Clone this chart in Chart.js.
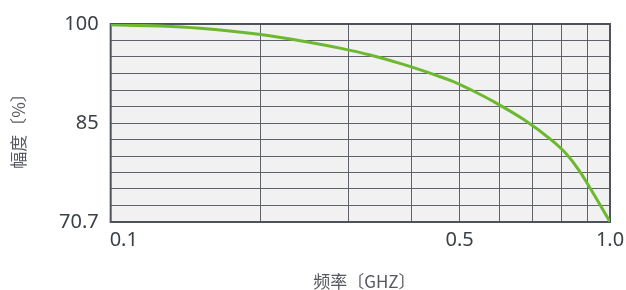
<!DOCTYPE html>
<html>
<head>
<meta charset="utf-8">
<script src="https://cdn.jsdelivr.net/npm/chart.js@4/dist/chart.umd.min.js"></script>
<style>
  html, body { margin: 0; padding: 0; background: #ffffff; }
  #wrap { width: 626px; height: 290px; }
</style>
</head>
<body>
<div id="wrap"><canvas id="ampChart"></canvas></div>
<script>
// frequency (GHz) and amplitude (%)
const freqs = [0.1, 0.126, 0.151, 0.196, 0.251, 0.291, 0.331, 0.387, 0.457, 0.483, 0.535, 0.583, 0.673, 0.766, 0.817, 0.867, 0.904, 0.946, 0.991, 1.0];
const amps  = [99.88, 99.71, 99.37, 98.51, 97.27, 96.36, 95.41, 93.98, 92.2, 91.55, 90.01, 88.56, 85.82, 82.73, 80.8, 78.35, 76.2, 73.76, 71.21, 70.7];

// axis ticks
const xGridValues = [0.1, 0.2, 0.3, 0.4, 0.5, 0.6, 0.7, 0.8, 0.9, 1.0];
const xTickLabels = ["0.1", "0.5", "1.0"];
const xTickValues = [0.1, 0.5, 1.0];
const yMin = 70.7, yMax = 100;
const yGridSteps = 12;
const yTickLabels = { 0: "70.7", 6: "85", 12: "100" };

const xTitle = "频率〔GHZ〕";
const yTitle = "幅度〔%〕";

const gridColor = "#5f6268";
const textColor = "#3c4047";
const titleColor = "#55585e";
const tickFont = "'Noto Sans', sans-serif";
const cjkFont = "'Noto Sans CJK SC', sans-serif";

const points = freqs.map((f, i) => ({ x: f, y: amps[i] }));

// plot background, frame, x labels and axis titles
const plotFrame = {
  id: "plotFrame",
  beforeDraw(chart) {
    const { ctx, chartArea: a } = chart;
    ctx.save();
    ctx.fillStyle = "#f1f1f1";
    ctx.fillRect(a.left, a.top, a.right - a.left, a.bottom - a.top);
    ctx.restore();
  },
  beforeDatasetsDraw(chart) {
    const { ctx, chartArea: a } = chart;
    ctx.save();
    ctx.strokeStyle = "#4e525a";
    ctx.lineWidth = 2;
    ctx.strokeRect(a.left, a.top, a.right - a.left, a.bottom - a.top);
    ctx.restore();
  },
  afterDraw(chart) {
    const { ctx, chartArea: a, scales } = chart;
    ctx.save();
    ctx.fillStyle = textColor;
    ctx.font = "20px " + tickFont;
    ctx.textBaseline = "middle";
    xTickValues.forEach((v, i) => {
      const px = scales.x.getPixelForValue(v);
      ctx.textAlign = i === 0 ? "left" : "center";
      ctx.fillText(xTickLabels[i], i === 0 ? a.left - 1 : px, a.bottom + 18);
    });
    ctx.fillStyle = titleColor;
    ctx.textAlign = "center";
    ctx.font = "17px " + cjkFont;
    ctx.fillText(xTitle, (a.left + a.right) / 2 + 4, a.bottom + 60);
    ctx.translate(19, (a.top + a.bottom) / 2 + 4);
    ctx.rotate(-Math.PI / 2);
    ctx.fillText(yTitle, 0, 0);
    ctx.restore();
  }
};

new Chart(document.getElementById("ampChart"), {
  type: "line",
  data: {
    datasets: [{
      data: points,
      borderColor: "#6cb92f",
      borderWidth: 3,
      pointRadius: 0,
      cubicInterpolationMode: "monotone",
      fill: false
    }]
  },
  options: {
    responsive: true,
    maintainAspectRatio: false,
    animation: false,
    layout: { padding: { top: 21, right: 16, left: 47, bottom: 68 } },
    plugins: { legend: { display: false }, tooltip: { enabled: false } },
    scales: {
      x: {
        type: "logarithmic",
        min: 0.1,
        max: 1.0,
        afterBuildTicks(scale) {
          scale.ticks = xGridValues.map(v => ({ value: v }));
        },
        ticks: { display: false },
        grid: { color: gridColor, lineWidth: 1, drawTicks: false },
        border: { display: false }
      },
      y: {
        min: yMin,
        max: yMax,
        afterBuildTicks(scale) {
          const t = [];
          for (let i = 0; i <= yGridSteps; i++) {
            t.push({ value: yMin + (yMax - yMin) * i / yGridSteps });
          }
          scale.ticks = t;
        },
        ticks: {
          autoSkip: false,
          color: textColor,
          font: { size: 20, family: tickFont },
          padding: 12,
          callback(value, index) {
            return yTickLabels[index] !== undefined ? yTickLabels[index] : "";
          }
        },
        grid: { color: gridColor, lineWidth: 1, drawTicks: false },
        border: { display: false }
      }
    }
  },
  plugins: [plotFrame]
});
</script>
</body>
</html>
